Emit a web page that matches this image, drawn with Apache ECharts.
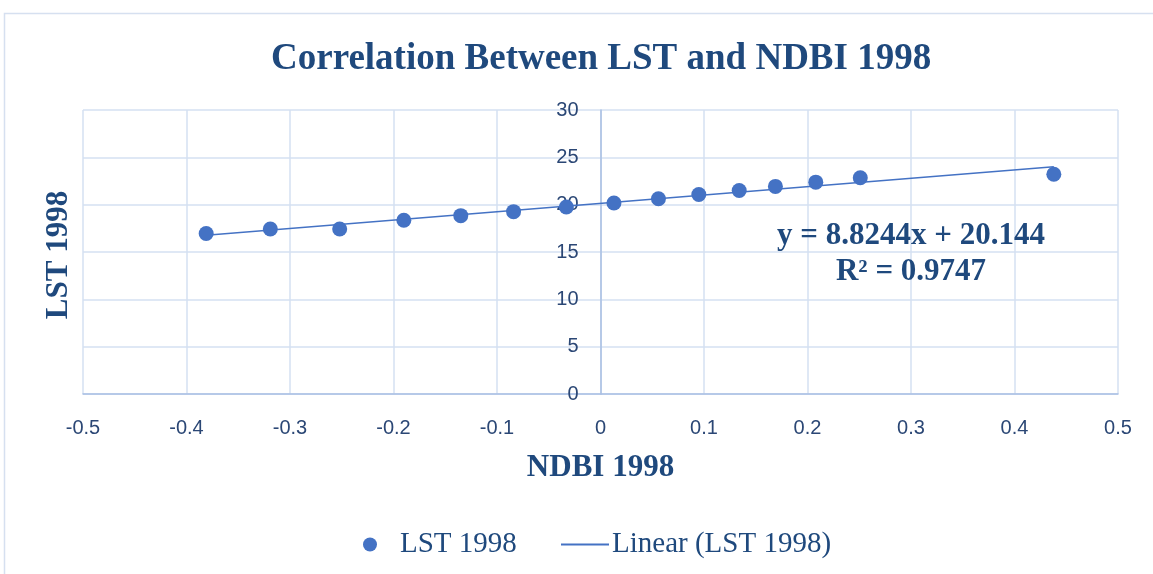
<!DOCTYPE html>
<html>
<head>
<meta charset="utf-8">
<script src="https://cdn.jsdelivr.net/npm/echarts@6/dist/echarts.min.js"></script>
<style>
  html, body { margin: 0; padding: 0; background: #fff; }
  #main { width: 1153px; height: 574px; }
</style>
</head>
<body>
<div id="main"></div>
<script>
// values
var ndbi = [-0.381, -0.319, -0.252, -0.190, -0.135, -0.084, -0.033, 0.013, 0.056, 0.095, 0.134, 0.169, 0.208, 0.251, 0.438];
var lst  = [16.95, 17.43, 17.43, 18.35, 18.84, 19.26, 19.75, 20.17, 20.63, 21.08, 21.50, 21.93, 22.38, 22.84, 23.22];
// trendline end points (y = 8.8244x + 20.144)
var trendX = [-0.381, 0.438];
var trendY = [16.78, 24.01];
var equationText = 'y = 8.8244x + 20.144';
var r2Text = 'R² = 0.9747';

var navy = '#1F497D';
var tickColor = '#2B4775';
var dotBlue = '#4472C4';
var serif = '"Liberation Serif", "Times New Roman", serif';
var sans = '"Liberation Sans", Arial, sans-serif';

var scatterData = ndbi.map(function (x, i) { return [x, lst[i]]; });
var trendData = trendX.map(function (x, i) { return [x, trendY[i]]; });

var gridLeft = 83, gridRight = 35;
// y axis sits on x = 0, in the middle of the -0.5..0.5 range
var yAxisShift = (1153 - gridLeft - gridRight) / 2;

var chart = echarts.init(document.getElementById('main'));

var option = {
    animation: false,
    title: {
        text: 'Correlation Between LST and NDBI 1998',
        left: 266,
        top: 36,
        textStyle: { fontFamily: serif, fontWeight: 'bold', fontSize: 37, color: navy }
    },
    grid: { left: gridLeft, right: gridRight, top: 110, bottom: 180 },
    xAxis: {
        type: 'value',
        min: -0.5,
        max: 0.5,
        interval: 0.1,
        name: 'NDBI 1998',
        nameLocation: 'middle',
        nameGap: 58,
        nameTextStyle: { fontFamily: serif, fontWeight: 'bold', fontSize: 31, color: navy },
        axisLine: { onZero: false, lineStyle: { color: '#A9BFE3', width: 1.5 } },
        axisTick: { show: false },
        axisLabel: { fontFamily: sans, fontSize: 20, color: tickColor, margin: 24 },
        splitLine: { show: true, lineStyle: { color: '#D5E0F2', width: 1.5 } }
    },
    yAxis: {
        type: 'value',
        min: 0,
        max: 30,
        interval: 5,
        position: 'left',
        offset: -yAxisShift,
        axisLine: { show: true, onZero: false, lineStyle: { color: '#A9BFE3', width: 1.5 } },
        axisTick: { show: false },
        axisLabel: { fontFamily: sans, fontSize: 20, color: tickColor, margin: 22 },
        splitLine: { show: true, lineStyle: { color: '#D5E0F2', width: 1.5 } }
    },
    legend: [
        {
            left: 358,
            top: 525,
            itemWidth: 14,
            itemHeight: 14,
            data: [{ name: 'LST 1998', icon: 'circle' }],
            itemStyle: { opacity: 1 },
            textStyle: { fontFamily: serif, fontSize: 29, color: navy, padding: [0, 0, 0, 18] }
        },
        {
            left: 556,
            top: 525,
            itemWidth: 48,
            itemHeight: 2,
            data: [{ name: 'Linear (LST 1998)', icon: 'rect' }],
            textStyle: { fontFamily: serif, fontSize: 29, color: navy, padding: [0, 0, 0, -2] }
        }
    ],
    graphic: [
        {
            type: 'rect',
            shape: { x: 4.5, y: 13.5, width: 1200, height: 600 },
            style: { fill: 'none', stroke: '#D6E0F0', lineWidth: 1.5 },
            silent: true,
            z: -10
        },
        {
            type: 'text',
            x: 59,
            y: 255,
            rotation: Math.PI / 2,
            style: {
                text: 'LST 1998',
                font: 'bold 31px ' + serif,
                fill: navy,
                align: 'center',
                verticalAlign: 'middle'
            }
        },
        {
            type: 'text',
            x: 911,
            y: 236,
            style: {
                text: equationText,
                font: 'bold 31px ' + serif,
                fill: navy,
                align: 'center',
                verticalAlign: 'middle'
            },
            z: 100
        },
        {
            type: 'text',
            x: 911,
            y: 272,
            style: {
                text: r2Text,
                font: 'bold 31px ' + serif,
                fill: navy,
                align: 'center',
                verticalAlign: 'middle'
            },
            z: 100
        }
    ],
    series: [
        {
            name: 'LST 1998',
            type: 'scatter',
            symbol: 'circle',
            symbolSize: 15,
            itemStyle: { color: dotBlue, opacity: 1 },
            data: scatterData,
            z: 3
        },
        {
            name: 'Linear (LST 1998)',
            type: 'line',
            symbol: 'none',
            lineStyle: { color: dotBlue, width: 1.5 },
            itemStyle: { color: dotBlue },
            data: trendData,
            z: 2
        }
    ]
};

chart.setOption(option);
</script>
</body>
</html>
